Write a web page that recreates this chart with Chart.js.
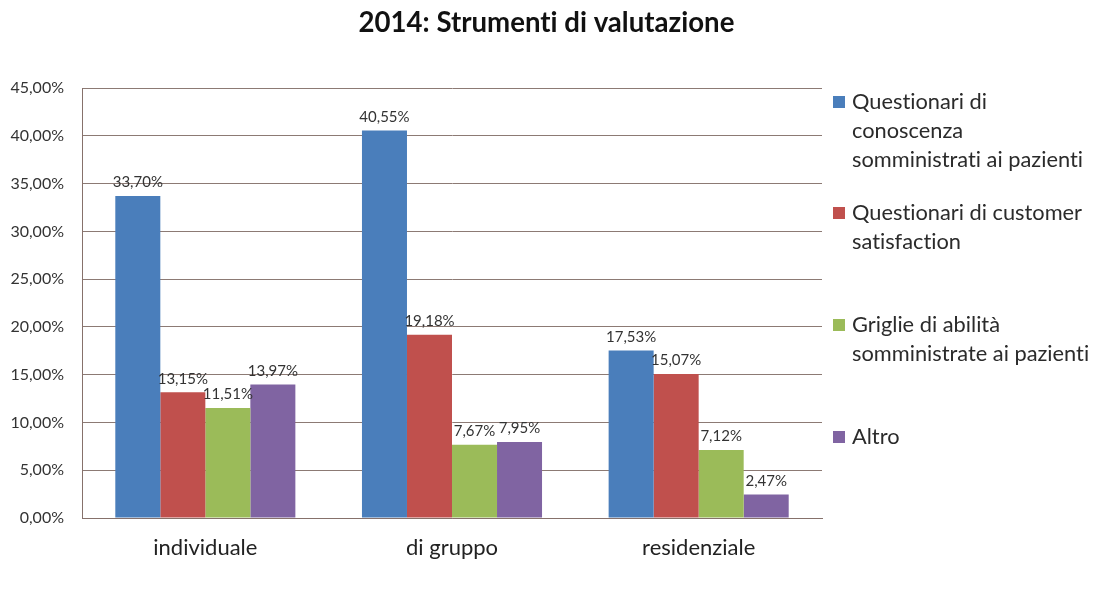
<!DOCTYPE html>
<html>
<head>
<meta charset="utf-8">
<script src="https://cdn.jsdelivr.net/npm/chart.js@4.4.0/dist/chart.umd.min.js"></script>
<style>
html,body{margin:0;padding:0;background:#fff;}
#wrap{position:relative;width:1093px;height:596px;}
canvas{font-variant-ligatures:none;text-rendering:optimizeSpeed;}
</style>
</head>
<body>
<div id="wrap"><canvas id="c" width="1093" height="596"></canvas></div>
<script>
const title = '2014: Strumenti di valutazione';
const categories = ['individuale', 'di gruppo', 'residenziale'];
const seriesNames = [
  ['Questionari di', 'conoscenza', 'somministrati ai pazienti'],
  ['Questionari di customer', 'satisfaction'],
  ['Griglie di abilità', 'somministrate ai pazienti'],
  ['Altro']
];
const questionariConoscenza = [33.70, 40.55, 17.53];
const customerSatisfaction = [13.15, 19.18, 15.07];
const griglieAbilita = [11.51, 7.67, 7.12];
const altro = [13.97, 7.95, 2.47];
const colors = ['#4a7ebb', '#c0504d', '#9bbb59', '#8064a2'];
const yTicks = [0, 5, 10, 15, 20, 25, 30, 35, 40, 45];

const fmt = v => v.toFixed(2).replace('.', ',') + '%';
const FONT = 'Lato, "Open Sans", sans-serif';

const seriesValues = [questionariConoscenza, customerSatisfaction, griglieAbilita, altro];

const noLigatures = {
  id: 'noLigatures',
  beforeDraw(chart) {
    try { chart.ctx.textRendering = 'optimizeSpeed'; } catch (e) {}
  }
};

const dataLabels = {
  id: 'dataLabels',
  afterDatasetsDraw(chart) {
    const ctx = chart.ctx;
    ctx.save();
    ctx.font = '15px ' + FONT;
    ctx.fillStyle = '#333';
    ctx.textAlign = 'center';
    ctx.textBaseline = 'bottom';
    chart.data.datasets.forEach((ds, i) => {
      chart.getDatasetMeta(i).data.forEach((bar, j) => {
        ctx.fillText(fmt(ds.data[j]), bar.x, bar.y - 6);
      });
    });
    ctx.restore();
  }
};

const sideLegend = {
  id: 'sideLegend',
  afterDraw(chart) {
    const ctx = chart.ctx;
    const starts = [102, 213, 325, 437];
    ctx.save();
    ctx.font = '21.8px ' + FONT;
    ctx.textBaseline = 'middle';
    ctx.textAlign = 'left';
    chart.data.datasets.forEach((ds, i) => {
      const y0 = starts[i];
      ctx.fillStyle = ds.backgroundColor;
      ctx.fillRect(833, y0 - 6, 12, 12);
      ctx.fillStyle = '#2b2b2b';
      ds.legendLines.forEach((t, k) => ctx.fillText(t, 852, y0 + k * 29));
    });
    ctx.restore();
  }
};

new Chart(document.getElementById('c'), {
  type: 'bar',
  data: {
    labels: categories,
    datasets: seriesValues.map((vals, i) => ({
      label: seriesNames[i].join(' '),
      legendLines: seriesNames[i],
      data: vals,
      backgroundColor: colors[i],
      borderWidth: 0,
      categoryPercentage: 0.73,
      barPercentage: 1.0
    }))
  },
  options: {
    responsive: false,
    animation: false,
    layout: { padding: 0 },
    plugins: {
      legend: { display: false },
      tooltip: { enabled: false },
      title: {
        display: true,
        text: title,
        color: '#111',
        font: { family: FONT, size: 27.6, weight: 'bold', lineHeight: 1.2 },
        padding: { top: 7, bottom: 47.9 }
      }
    },
    scales: {
      x: {
        grid: { display: false, drawTicks: false },
        border: { color: '#86716b', width: 1 },
        ticks: { color: '#222', font: { family: FONT, size: 22 }, padding: 17 },
        afterFit(s) { s.height = 78; }
      },
      y: {
        min: 0, max: 45,
        afterBuildTicks(s) { s.ticks = yTicks.map(v => ({ value: v })); },
        grid: { color: '#8c7a74', lineWidth: 1, drawTicks: false },
        border: { color: '#86716b', width: 1 },
        ticks: {
          color: '#333',
          font: { family: FONT, size: 16 },
          padding: 18,
          callback: v => fmt(v)
        },
        afterFit(s) { s.width = 82; }
      },
      legendSpace: {
        type: 'linear',
        position: 'right',
        min: 0, max: 1,
        grid: { display: false, drawTicks: false },
        border: { display: false },
        ticks: { display: false },
        afterFit(s) { s.width = 271; }
      }
    }
  },
  plugins: [noLigatures, dataLabels, sideLegend]
});
</script>
</body>
</html>
